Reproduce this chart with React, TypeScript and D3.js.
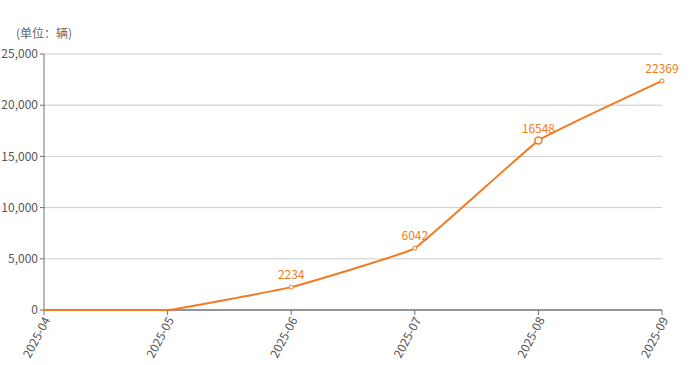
import React from 'react';
import * as d3 from 'd3';

const months = ['2025-04', '2025-05', '2025-06', '2025-07', '2025-08', '2025-09'];
const sales = [0, 0, 2234, 6042, 16548, 22369];
const yTicks = [0, 5000, 10000, 15000, 20000, 25000];
const labelled = [false, false, true, true, true, true];
const highlighted = 4;

const W = 690;
const H = 365;
const margin = { left: 44, right: 28, top: 54, bottom: 55 };
const lineColor = '#f47a20';
const textColor = '#555';
const font = '"Noto Sans CJK SC", "Noto Sans", sans-serif';

export default function App() {
  const x = d3
    .scalePoint<string>()
    .domain(months)
    .range([margin.left, W - margin.right]);
  const y = d3
    .scaleLinear()
    .domain([0, 25000])
    .range([H - margin.bottom, margin.top]);

  // light smoothing, close to straight segments
  const line = d3
    .line<number>()
    .x((_, i) => x(months[i]) as number)
    .y(d => Math.min(y(d), y(0)))
    .curve(d3.curveCardinal.tension(0.75));

  const fmt = d3.format(',');
  const x0 = margin.left;
  const x1 = W - margin.right;
  const yBase = y(0);

  return (
    <svg
      width={W}
      height={H}
      style={{ position: 'absolute', left: 0, top: 0, fontFamily: font }}
    >
      <defs>
        <clipPath id="plot">
          <rect x={x0 - 2} y={margin.top - 20} width={x1 - x0 + 4} height={yBase - margin.top + 21} />
        </clipPath>
      </defs>
      <text x={16} y={38} fontSize={12} fill="#666">
        (单位：辆)
      </text>

      {/* grid + y labels */}
      {yTicks.map(t => (
        <g key={t}>
          {t > 0 && (
            <line x1={x0} x2={x1} y1={y(t)} y2={y(t)} stroke="#ccc" strokeWidth={1} />
          )}
          <line x1={x0 - 4} x2={x0} y1={y(t)} y2={y(t)} stroke="#6e7079" />
          <text
            x={x0 - 6}
            y={y(t)}
            dy="0.35em"
            textAnchor="end"
            fontSize={12}
            fill={textColor}
          >
            {fmt(t)}
          </text>
        </g>
      ))}

      {/* axes */}
      <line x1={x0} x2={x0} y1={margin.top} y2={yBase} stroke="#6e7079" />
      <line x1={x0} x2={x1} y1={yBase} y2={yBase} stroke="#6e7079" strokeWidth={1.5} />

      {months.map(m => {
        const px = x(m) as number;
        return (
          <g key={m}>
            <line x1={px} x2={px} y1={yBase} y2={yBase + 5} stroke="#6e7079" />
            <text
              transform={`translate(${px + 3},${yBase + 8}) rotate(-62)`}
              textAnchor="end"
              dy="0.35em"
              fontSize={12}
              fill={textColor}
            >
              {m}
            </text>
          </g>
        );
      })}

      <path
        d={line(sales) || ''}
        fill="none"
        stroke={lineColor}
        strokeWidth={2}
        clipPath="url(#plot)"
      />

      {sales.map((v, i) => {
        const px = x(months[i]) as number;
        const py = y(v);
        const big = i === highlighted;
        return (
          <g key={i}>
            {labelled[i] && (
              <>
                <circle
                  cx={px}
                  cy={py}
                  r={big ? 3.5 : 2}
                  fill="#fff"
                  stroke={lineColor}
                  strokeWidth={big ? 1.5 : 1}
                />
                <text
                  x={px}
                  y={py - 8}
                  textAnchor="middle"
                  fontSize={12}
                  fill={lineColor}
                >
                  {v}
                </text>
              </>
            )}
          </g>
        );
      })}
    </svg>
  );
}
